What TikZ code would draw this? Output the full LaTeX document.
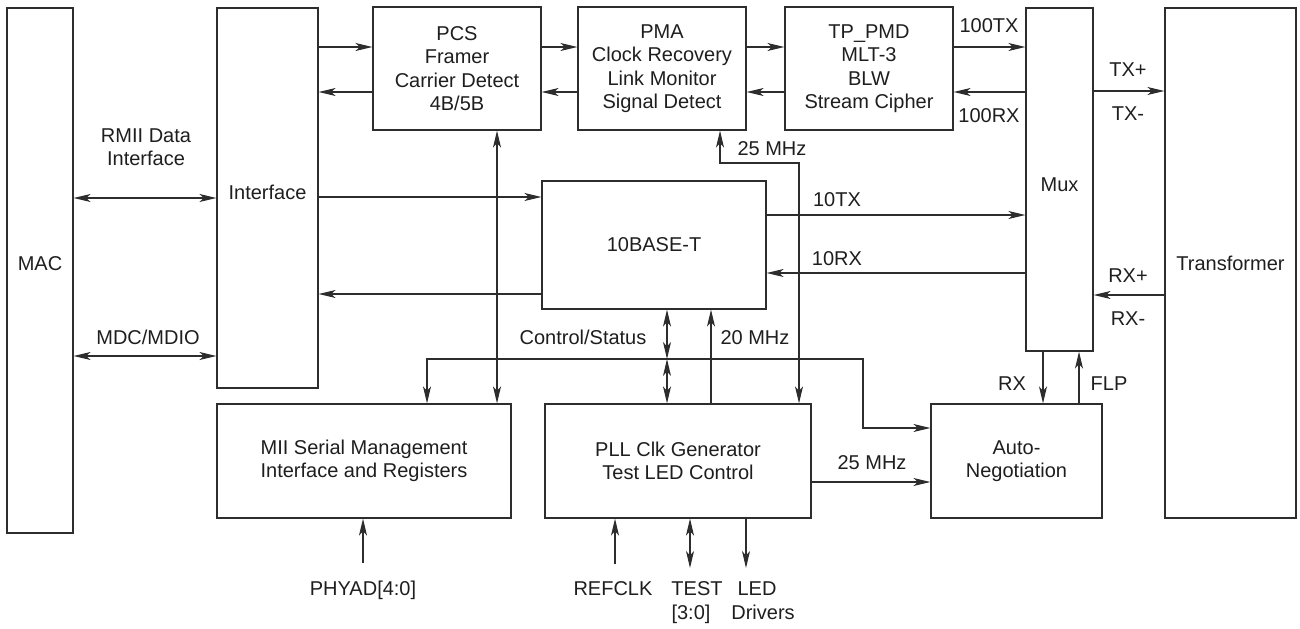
\documentclass[tikz,border=0pt]{standalone}
\usepackage{fontspec}
\setmainfont{Liberation Sans}
\usetikzlibrary{arrows.meta,calc}
\definecolor{linec}{RGB}{45,45,45}
\definecolor{txtc}{RGB}{30,30,30}
\begin{document}
\begin{tikzpicture}[x=1bp,y=-1bp,
  every node/.style={font=\fontsize{20bp}{23.5bp}\selectfont, text=txtc},
  box/.style={draw=linec, line width=1.2bp, inner sep=0pt, align=center},
  lbl/.style={inner sep=0pt, text height=14.5bp, text depth=0bp},
  mlbl/.style={inner sep=0pt, align=center},
  tipx/.tip={Stealth[length=17bp,width=8bp,inset=4.5bp]},
  conn/.style={draw=linec, line width=1.2bp, -tipx},
  bconn/.style={draw=linec, line width=1.2bp, tipx-tipx},
]
\useasboundingbox (0,0) rectangle (1300,629);

% boxes
\node[box, minimum width=66bp, minimum height=525bp] (mac) at (40,270.5) {};
\node[lbl] (mactxt) at (40,263) {MAC};
\node[box, minimum width=101bp, minimum height=380bp] (iface) at (267.5,198) {};
\node[lbl] (ifacetxt) at (267.5,192) {Interface};
\node[box, minimum width=168bp, minimum height=123bp] (pcs) at (457,68.5) {PCS\\Framer\\Carrier Detect\\4B/5B};
\node[box, minimum width=168bp, minimum height=123bp] (pma) at (662,68.5) {PMA\\Clock Recovery\\Link Monitor\\Signal Detect};
\node[box, minimum width=168bp, minimum height=123bp] (tp) at (869,68.5) {TP\_PMD\\MLT-3\\BLW\\Stream Cipher};
\node[box, minimum width=67bp, minimum height=343bp] (mux) at (1059.5,179.5) {};
\node[lbl] (muxtxt) at (1059.5,184) {Mux};
\node[box, minimum width=131bp, minimum height=510bp] (trans) at (1230.5,263) {Transformer};
\node[box, minimum width=224bp, minimum height=128bp] (tb) at (654,245) {10BASE-T};
\node[box, minimum width=294bp, minimum height=114bp] (mii) at (364,461) {MII Serial Management\\Interface and Registers};
\node[box, minimum width=266bp, minimum height=114bp] (pll) at (678,461) {PLL Clk Generator\\Test LED Control};
\node[box, minimum width=171bp, minimum height=114bp] (an) at (1016.5,461) {Auto-\\Negotiation};

% MAC <-> Interface
\draw[bconn] (mac.east |- 0,198) -- (iface.west |- 0,198);
\draw[bconn] (mac.east |- 0,356) -- (iface.west |- 0,356);
\node[mlbl] (lrmii) at (146,147) {RMII Data\\Interface};
\node[lbl] (lmdc) at (148,337) {MDC/MDIO};

% top chain
\draw[conn] (iface.east |- 0,47) -- (pcs.west |- 0,47);
\draw[conn] (pcs.west |- 0,92) -- (iface.east |- 0,92);
\draw[conn] (pcs.east |- 0,47) -- (pma.west |- 0,47);
\draw[conn] (pma.west |- 0,92) -- (pcs.east |- 0,92);
\draw[conn] (pma.east |- 0,47) -- (tp.west |- 0,47);
\draw[conn] (tp.west |- 0,92) -- (pma.east |- 0,92);
\draw[conn] (tp.east |- 0,47) -- (mux.west |- 0,47);
\draw[conn] (mux.west |- 0,92) -- (tp.east |- 0,92);
\node[lbl] (l100tx) at (989,25) {100TX};
\node[lbl] (l100rx) at (989,115) {100RX};

% Mux <-> Transformer
\draw[conn] (mux.east |- 0,91) -- (trans.west |- 0,91);
\draw[conn] (trans.west |- 0,295) -- (mux.east |- 0,295);
\node[lbl] (ltxp) at (1128,69) {TX+};
\node[lbl] (ltxm) at (1128,113) {TX-};
\node[lbl] (lrxp) at (1128,275) {RX+};
\node[lbl] (lrxm) at (1128,318) {RX-};

% 10BASE-T
\draw[conn] (iface.east |- 0,197) -- (tb.west |- 0,197);
\draw[conn] (tb.west |- 0,294) -- (iface.east |- 0,294);
\draw[conn] (tb.east |- 0,215) -- (mux.west |- 0,215);
\draw[conn] (mux.west |- 0,273) -- (tb.east |- 0,273);
\node[lbl] (l10tx) at (837,199) {10TX};
\node[lbl] (l10rx) at (837,258) {10RX};

% PCS <-> MII
\draw[bconn] (pcs.south -| 497,0) -- (mii.north -| 497,0);

% 25 MHz to PMA / PLL
\coordinate (c25) at (799,163);
\draw[bconn] (pma.south -| 720,0) |- (c25) -- (pll.north -| c25);
\node[lbl] (l25a) at (772,148) {25 MHz};

% Control/Status
\coordinate (cs) at (667,359);
\draw[bconn] (tb.south -| cs) -- (cs);
\draw[bconn] (cs) -- (pll.north -| cs);
\draw[bconn] (mii.north -| 427,0) |- (863,359) |- (an.west |- 0,428);
\node[lbl] (lcs) at (583,337) {Control/Status};

% 20 MHz
\draw[conn] (pll.north -| 711,0) -- (tb.south -| 711,0);
\node[lbl] (l20) at (755,337) {20 MHz};

% PLL -> Auto-Negotiation
\draw[conn] (pll.east |- 0,482) -- (an.west |- 0,482);
\node[lbl] (l25b) at (872,462) {25 MHz};

% Mux <-> Auto-Negotiation
\draw[conn] (mux.south -| 1043,0) -- (an.north -| 1043,0);
\draw[conn] (an.north -| 1079,0) -- (mux.south -| 1079,0);
\node[lbl] (lrx) at (1012,383) {RX};
\node[lbl] (lflp) at (1109,383) {FLP};

% bottom pins
\coordinate (cphy) at (363,563);
\coordinate (cref) at (615,564);
\coordinate (ctest) at (690,568);
\coordinate (cled) at (746,568);
\draw[conn] (cphy) -- (mii.south -| cphy);
\draw[conn] (cref) -- (pll.south -| cref);
\draw[bconn] (pll.south -| ctest) -- (ctest);
\draw[conn] (pll.south -| cled) -- (cled);
\node[lbl] (lphy) at (363,588) {PHYAD[4:0]};
\node[lbl] (lref) at (613,588) {REFCLK};
\node[lbl] (ltest) at (697,588) {TEST};
\node[lbl] (ltest2) at (691,612) {[3:0]};
\node[lbl] (lled) at (757,588) {LED};
\node[lbl] (lled2) at (763,612) {Drivers};
\end{tikzpicture}
\end{document}
